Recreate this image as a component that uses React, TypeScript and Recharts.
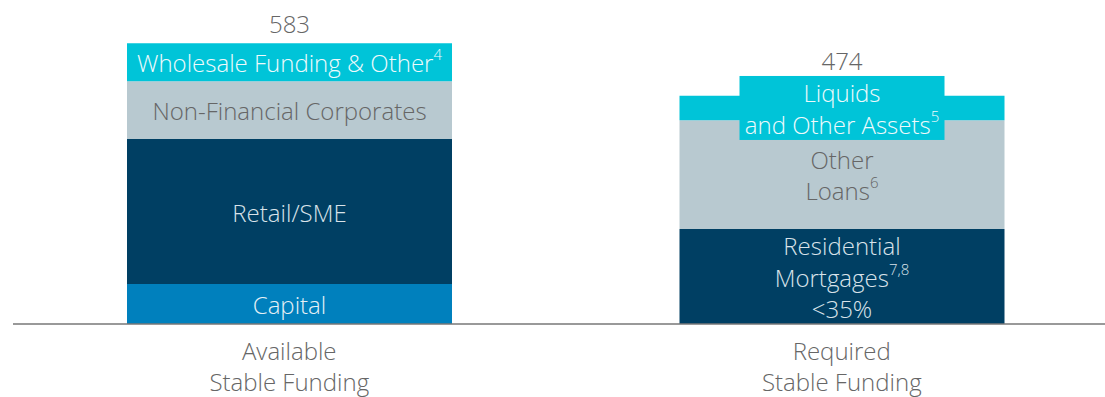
import React from "react";
import { BarChart, Bar, XAxis, YAxis } from "recharts";

const categories = ["Available\nStable Funding", "Required\nStable Funding"];
const totals = [583, 474];

// left bar (ASF)
const capital = [83, 0];
const retailSme = [301, 0];
const nonFinCorp = [120, 0];
const wholesale = [79, 0];
// right bar (RSF)
const resiMortgages = [0, 197];
const otherLoans = [0, 226];
const liquids = [0, 51];

const data = categories.map((name, i) => ({
  name,
  total: totals[i],
  capital: capital[i],
  retailSme: retailSme[i],
  nonFinCorp: nonFinCorp[i],
  wholesale: wholesale[i],
  resiMortgages: resiMortgages[i],
  otherLoans: otherLoans[i],
  liquids: liquids[i],
}));

const FONT = "'Open Sans', 'DejaVu Sans', sans-serif";
const FS = 24;
const LINE_H = 31.5;

type Line = [string, string?];

function textLines(lines: Line[], cx: number, cy: number, color: string) {
  const start = cy - ((lines.length - 1) * LINE_H) / 2;
  return lines.map(([main, sup], k) => (
    <text
      key={k}
      x={cx}
      y={start + k * LINE_H}
      textAnchor="middle"
      dominantBaseline="central"
      fill={color}
      fontFamily={FONT}
      fontWeight={300}
      fontSize={FS}
    >
      <tspan>{main}</tspan>
      {sup ? (
        <tspan fontSize={15} dy={-8}>
          {sup}
        </tspan>
      ) : null}
    </text>
  ));
}

function makeLabel(lines: Line[], color: string, opts: { box?: string; totalIdx?: number } = {}) {
  return (p: any) => {
    const h = Number(p.height);
    if (!h || h <= 0) return null;
    const x = Number(p.x);
    const y = Number(p.y);
    const w = Number(p.width);
    const cx = x + w / 2;
    const cy = y + h / 2;
    let totalY = y - 20;
    let box = null;
    if (opts.box) {
      const bh = 64;
      const bw = 205;
      box = <rect x={cx - bw / 2} y={cy - bh / 2} width={bw} height={bh} fill={opts.box} />;
      totalY = cy - bh / 2 - 15;
    }
    return (
      <g>
        {box}
        {textLines(lines, cx, cy, color)}
        {opts.totalIdx !== undefined ? (
          <text
            x={cx}
            y={totalY}
            textAnchor="middle"
            dominantBaseline="central"
            fill="#666"
            fontFamily={FONT}
            fontWeight={300}
            fontSize={FS}
          >
            {totals[opts.totalIdx]}
          </text>
        ) : null}
      </g>
    );
  };
}

function CategoryTick({ x, y, payload }: any) {
  const parts = String(payload.value).split("\n");
  return (
    <g>
      {parts.map((t, k) => (
        <text
          key={k}
          x={x}
          y={y + 18 + k * 31}
          textAnchor="middle"
          dominantBaseline="central"
          fill="#666"
          fontFamily={FONT}
          fontWeight={300}
          fontSize={FS}
        >
          {t}
        </text>
      ))}
    </g>
  );
}

export default function App() {
  return (
    <div style={{ position: "absolute", left: 0, top: 0, width: 1105, height: 397, overflow: "hidden", background: "#fff" }}>
      <BarChart
        width={1105}
        height={397}
        data={data}
        margin={{ top: 35, right: -13, bottom: 0, left: 13 }}
        barSize={325}
      >
        <XAxis
          dataKey="name"
          height={73}
          tickLine={false}
          axisLine={{ stroke: "#777", strokeWidth: 1.5 }}
          tick={<CategoryTick />}
          interval={0}
        />
        <YAxis hide domain={[0, 600]} />
        <Bar dataKey="capital" stackId="a" fill="#0080BD" isAnimationActive={false}
          label={makeLabel([["Capital"]], "#e6f0f6")} />
        <Bar dataKey="retailSme" stackId="a" fill="#003F63" isAnimationActive={false}
          label={makeLabel([["Retail/SME"]], "#d9e3ea")} />
        <Bar dataKey="nonFinCorp" stackId="a" fill="#B8C9D0" isAnimationActive={false}
          label={makeLabel([["Non-Financial Corporates"]], "#666")} />
        <Bar dataKey="wholesale" stackId="a" fill="#00C4D8" isAnimationActive={false}
          label={makeLabel([["Wholesale Funding & Other", "4"]], "#eefafc", { totalIdx: 0 })} />
        <Bar dataKey="resiMortgages" stackId="a" fill="#003F63" isAnimationActive={false}
          label={makeLabel([["Residential"], ["Mortgages", "7,8"], ["<35%"]], "#d9e3ea")} />
        <Bar dataKey="otherLoans" stackId="a" fill="#B8C9D0" isAnimationActive={false}
          label={makeLabel([["Other"], ["Loans", "6"]], "#666")} />
        <Bar dataKey="liquids" stackId="a" fill="#00C4D8" isAnimationActive={false}
          label={makeLabel([["Liquids"], ["and Other Assets", "5"]], "#eefafc", { box: "#00C4D8", totalIdx: 1 })} />
      </BarChart>
    </div>
  );
}
